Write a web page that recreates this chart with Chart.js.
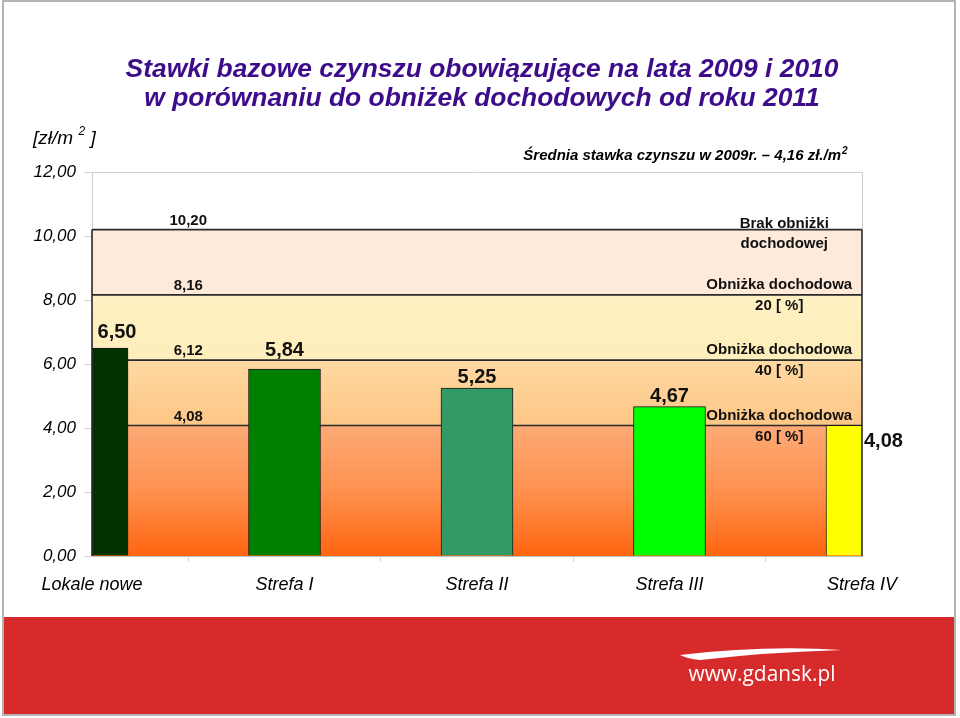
<!DOCTYPE html>
<html>
<head>
<meta charset="utf-8">
<script src="https://cdn.jsdelivr.net/npm/chart.js@4.4.1/dist/chart.umd.min.js"></script>
<style>
html, body { margin: 0; padding: 0; background: #fff; }
canvas { display: block; }
</style>
</head>
<body>
<canvas id="slide" width="960" height="718"></canvas>
<script>
// Chart data
const categories = ['Lokale nowe', 'Strefa I', 'Strefa II', 'Strefa III', 'Strefa IV'];
const rates = [6.50, 5.84, 5.25, 4.67, 4.08];
const barColors = ['#003300', '#008000', '#339966', '#00ff00', '#ffff00'];
const bandLevels = [10.20, 8.16, 6.12, 4.08];
const bandNotes = [
    ['Brak obniżki', 'dochodowej'],
    ['Obniżka dochodowa', '20 [ %]'],
    ['Obniżka dochodowa', '40 [ %]'],
    ['Obniżka dochodowa', '60 [ %]']
];
const titleLines = [
    'Stawki bazowe czynszu obowiązujące na lata 2009 i 2010',
    'w porównaniu do obniżek dochodowych od roku 2011'
];
const avgNote = 'Średnia stawka czynszu w 2009r. – 4,16 zł./m';
const yMax = 12;
const yStep = 2;

const FONT = '"Liberation Sans", Arial, sans-serif';

function fmt(v) {
    return v.toFixed(2).replace('.', ',');
}

// fill colours for each band (top -> bottom)
function bandFill(i) {
    return function (c) {
        const chart = c.chart;
        const area = chart.chartArea;
        if (!area) return '#fdeadb';
        const y = chart.scales.y;
        const top = y.getPixelForValue(bandLevels[i]);
        const bottom = i + 1 < bandLevels.length ? y.getPixelForValue(bandLevels[i + 1]) : y.getPixelForValue(0);
        const g = chart.ctx.createLinearGradient(0, top, 0, bottom);
        if (i === 0) { g.addColorStop(0, '#fdeadb'); g.addColorStop(1, '#fdeadb'); }
        if (i === 1) { g.addColorStop(0, '#fef0c2'); g.addColorStop(1, '#feeebb'); }
        if (i === 2) { g.addColorStop(0, '#fed9a2'); g.addColorStop(1, '#fdc685'); }
        if (i === 3) { g.addColorStop(0, '#fdaa76'); g.addColorStop(0.5, '#fe914f'); g.addColorStop(1, '#ff6510'); }
        return g;
    };
}

let datasets = [{
    type: 'bar',
    data: rates,
    backgroundColor: barColors,
    borderColor: '#1a1a1a',
    borderWidth: 1,
    barThickness: 72,
    clip: 0,
    order: 1
}];

bandLevels.forEach((lvl, i) => {
    datasets.push({
        type: 'line',
        data: categories.map(() => lvl),
        borderColor: '#2a2a2a',
        borderWidth: 1.6,
        pointRadius: 0,
        fill: i < bandLevels.length - 1 ? '+1' : 'origin',
        backgroundColor: bandFill(i),
        order: 2
    });
});

// slide decoration: frame, title, red footer
const slidePlugin = {
    id: 'slide',
    beforeDraw(chart) {
        const ctx = chart.ctx;
        ctx.save();
        ctx.fillStyle = '#ffffff';
        ctx.fillRect(0, 0, chart.width, chart.height);

        // red footer
        ctx.fillStyle = '#d62b2a';
        ctx.fillRect(4, 617, 951, 97);

        // frame
        ctx.strokeStyle = '#b4b4b4';
        ctx.lineWidth = 2;
        ctx.strokeRect(3, 1, 952, 714);

        // logo swoosh
        ctx.fillStyle = '#ffffff';
        ctx.beginPath();
        ctx.moveTo(680, 655);
        ctx.quadraticCurveTo(765, 645, 842, 650);
        ctx.quadraticCurveTo(770, 652, 700, 660);
        ctx.quadraticCurveTo(688, 659, 680, 655);
        ctx.fill();

        // logo text
        let size = 24;
        ctx.font = size + 'px "Open Sans", "DejaVu Sans", sans-serif';
        const w = ctx.measureText('www.gdansk.pl').width;
        size = size * 147 / w;
        ctx.font = size + 'px "Open Sans", "DejaVu Sans", sans-serif';
        ctx.textAlign = 'center';
        ctx.textBaseline = 'middle';
        ctx.fillText('www.gdansk.pl', 762, 675);

        // title
        ctx.fillStyle = '#3d0c8a';
        ctx.font = 'italic bold 26.4px ' + FONT;
        ctx.fillText(titleLines[0], 482, 70);
        ctx.fillText(titleLines[1], 482, 99);

        // unit label
        ctx.fillStyle = '#000000';
        ctx.textAlign = 'left';
        ctx.font = 'italic 19px ' + FONT;
        ctx.fillText('[zł/m', 33, 139);
        let ux = 33 + ctx.measureText('[zł/m ').width;
        ctx.font = 'italic 12px ' + FONT;
        ctx.fillText('2', ux, 132);
        ux += ctx.measureText('2 ').width + 2;
        ctx.font = 'italic 19px ' + FONT;
        ctx.fillText(']', ux, 139);

        // average note
        ctx.font = 'italic bold 15px ' + FONT;
        ctx.textAlign = 'right';
        const supW = 8;
        ctx.fillText(avgNote, 849 - supW, 156);
        ctx.font = 'italic bold 10px ' + FONT;
        ctx.textAlign = 'left';
        ctx.fillText('2', 849 - supW + 1, 151);
        ctx.restore();
    },
    afterDatasetsDraw(chart) {
        const ctx = chart.ctx;
        const area = chart.chartArea;
        const x = chart.scales.x;
        const y = chart.scales.y;
        ctx.save();

        // plot box top / right
        ctx.strokeStyle = '#cfcfcf';
        ctx.lineWidth = 1;
        ctx.beginPath();
        ctx.moveTo(area.left, area.top + 0.5);
        ctx.lineTo(area.right + 0.5, area.top + 0.5);
        ctx.lineTo(area.right + 0.5, y.getPixelForValue(bandLevels[0]));
        ctx.stroke();

        // band edges
        ctx.strokeStyle = '#2a2a2a';
        ctx.lineWidth = 1.6;
        ctx.beginPath();
        ctx.moveTo(area.left, y.getPixelForValue(bandLevels[0]));
        ctx.lineTo(area.left, y.getPixelForValue(0));
        ctx.moveTo(area.right, y.getPixelForValue(bandLevels[0]));
        ctx.lineTo(area.right, y.getPixelForValue(0));
        ctx.stroke();

        // band values and notes
        ctx.fillStyle = '#111111';
        ctx.textAlign = 'center';
        ctx.textBaseline = 'middle';
        ctx.font = 'bold 15px ' + FONT;
        const lx = (x.getPixelForValue(0) + x.getPixelForValue(1)) / 2;
        const nx = x.getPixelForValue(3) + 0.57 * (x.getPixelForValue(4) - x.getPixelForValue(3));
        bandLevels.forEach((lvl, i) => {
            const py = y.getPixelForValue(lvl);
            ctx.fillText(fmt(lvl), lx, py - 9);
            const up = i === 0 ? 6 : 10;
            const dn = i === 0 ? 14 : 11;
            ctx.fillText(bandNotes[i][0], nx + (i === 0 ? 5 : 0), py - up);
            ctx.fillText(bandNotes[i][1], nx + (i === 0 ? 5 : 0), py + dn);
        });

        // bar values
        const lift = [16, 19, 11, 10];
        ctx.font = 'bold 20px ' + FONT;
        const meta = chart.getDatasetMeta(0);
        meta.data.forEach((bar, i) => {
            let tx = bar.x;
            let ty = bar.y - (lift[i] || 14);
            ctx.textAlign = 'center';
            if (bar.x - bar.width / 2 < area.left) {
                tx = (area.left + bar.x + bar.width / 2) / 2 + 7;
            }
            if (bar.x + bar.width / 2 > area.right) {
                ctx.textAlign = 'left';
                tx = area.right + 2;
                ty = bar.y + 16;
            }
            ctx.fillText(fmt(rates[i]), tx, ty);
        });
        ctx.restore();
    }
};

let ctx = document.getElementById('slide').getContext('2d');
let chart = new Chart(ctx, {
    data: {
        labels: categories,
        datasets: datasets
    },
    options: {
        responsive: false,
        animation: false,
        devicePixelRatio: 1,
        layout: {
            padding: { left: 0, right: 98, top: 172, bottom: 122 }
        },
        plugins: {
            legend: { display: false },
            tooltip: { enabled: false },
            filler: { drawTime: 'beforeDatasetsDraw' }
        },
        scales: {
            x: {
                type: 'category',
                offset: false,
                grid: { drawOnChartArea: false, tickLength: 6, color: '#d6d6d6' },
                border: { color: '#c4c4c4' },
                ticks: {
                    color: '#000',
                    font: { family: FONT, size: 18, style: 'italic' },
                    padding: 12,
                    maxRotation: 0,
                    autoSkip: false
                },
                afterFit(s) { s.height = 40; }
            },
            y: {
                min: 0,
                max: yMax,
                grid: { drawOnChartArea: false, tickLength: 8, color: '#d6d6d6' },
                border: { color: '#cfcfcf' },
                ticks: {
                    stepSize: yStep,
                    color: '#000',
                    font: { family: FONT, size: 17, style: 'italic' },
                    padding: 8,
                    callback: v => fmt(v)
                },
                afterFit(s) { s.width = 92; }
            }
        }
    },
    plugins: [slidePlugin]
});
</script>
</body>
</html>
